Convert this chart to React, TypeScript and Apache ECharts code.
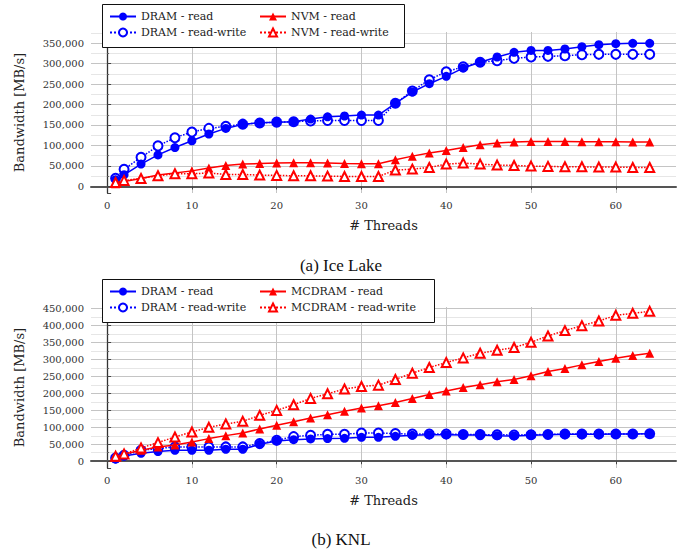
import React, { useEffect, useRef } from "react";
import * as echarts from "echarts";

const threads = [1, 2, 4, 6, 8, 10, 12, 14, 16, 18, 20, 22, 24, 26, 28, 30, 32, 34, 36, 38, 40, 42, 44, 46, 48, 50, 52, 54, 56, 58, 60, 62, 64];

const iceDramRead = [16300, 28500, 54500, 77000, 95000, 111500, 128000, 141700, 151500, 155500, 157000, 158000, 164500, 170000, 172000, 174300, 174300, 202800, 230500, 250800, 268700, 289000, 303000, 316000, 327400, 332000, 332000, 335500, 341000, 346000, 348500, 349300, 349300];
const iceDramRW = [20000, 42000, 71000, 99000, 119000, 133000, 141700, 146600, 152000, 155000, 157000, 158000, 160000, 161000, 161000, 161000, 161000, 203000, 233000, 260600, 280000, 292000, 303000, 307000, 312700, 316000, 317600, 319000, 321700, 322500, 322500, 322500, 322500];
const iceNvmRead = [6500, 12000, 19500, 27700, 32600, 38000, 44800, 51300, 54600, 56000, 57000, 57800, 57800, 57000, 56000, 55400, 55400, 65000, 74000, 81400, 88000, 95300, 101800, 105900, 108300, 110000, 110000, 110000, 109100, 109100, 109100, 108300, 108300];
const iceNvmRW = [9800, 14700, 19500, 26000, 31000, 31000, 32600, 29300, 29300, 27700, 26900, 26000, 26000, 25200, 24400, 24400, 24400, 40000, 42300, 46400, 54600, 57000, 54600, 52100, 51300, 49700, 48900, 48000, 48000, 47200, 47200, 46400, 46400];

const knlDramRead = [5900, 15700, 23500, 28400, 32400, 32400, 32400, 35300, 35300, 50000, 59800, 63700, 65700, 66700, 67600, 70600, 70600, 73500, 76500, 78400, 78400, 77500, 77500, 75500, 74500, 76500, 78400, 79400, 79400, 79400, 80400, 80400, 81400];
const knlDramRW = [9800, 17600, 32400, 37300, 42200, 42200, 42200, 42200, 42200, 52000, 61800, 72500, 76500, 79400, 79400, 83300, 83300, 81400, 80000, 80000, 80000, 79000, 78500, 78000, 77500, 78000, 79000, 80000, 80000, 80000, 80500, 80500, 81000];
const knlMcRead = [11800, 20600, 32400, 42200, 48000, 56900, 66700, 75500, 83300, 95100, 105900, 116700, 127500, 137300, 147500, 156900, 163700, 173500, 185300, 197100, 206900, 217600, 225500, 234300, 241200, 252000, 264700, 273500, 284300, 294100, 303900, 311800, 318600];
const knlMcRW = [14700, 21600, 39200, 54900, 71600, 86300, 100000, 109800, 117600, 135300, 150000, 166700, 185300, 199000, 213200, 220600, 224500, 241200, 259800, 276500, 291200, 304900, 318600, 327500, 335300, 351000, 369600, 385300, 400000, 413700, 430400, 436300, 442200];

const captions = ["(a) Ice Lake", "(b) KNL"];
const xName = "# Threads";
const yName = "Bandwidth [MB/s]";

const BLUE = "#0000ff";
const RED = "#ff0000";
const AXFONT = "'DejaVu Serif', serif";

const pairs = (vals: number[]) => vals.map((v, i) => [threads[i], v]);

function mkSeries(name: string, vals: number[], gi: number, color: string, kind: "circle" | "triangle", rw: boolean, z: number) {
  const symbol = rw ? (kind === "circle" ? "emptyCircle" : "emptyTriangle") : kind;
  return {
    type: "line",
    name,
    xAxisIndex: gi,
    yAxisIndex: gi,
    data: pairs(vals),
    symbol,
    symbolSize: 9,
    showAllSymbol: true,
    z,
    lineStyle: { color, width: 1.5, type: rw ? "dotted" : "solid" },
    itemStyle: { color, borderColor: color, borderWidth: rw ? 1.8 : 0 },
    emphasis: { disabled: true },
  };
}

function xAxisCfg(gi: number) {
  return {
    type: "value",
    gridIndex: gi,
    min: -1.9,
    max: 67.1,
    splitNumber: 7,
    name: xName,
    nameLocation: "middle",
    nameGap: 26,
    nameTextStyle: { fontFamily: AXFONT, fontSize: 13, color: "#222" },
    axisLine: { show: true, lineStyle: { color: "#555", width: 2 } },
    axisTick: { show: true, inside: false, length: 3, lineStyle: { color: "#444" } },
    axisLabel: { fontFamily: AXFONT, fontSize: 10, color: "#333", margin: 7, showMinLabel: false, showMaxLabel: false },
    splitLine: { show: true, showMinLine: false, showMaxLine: false, lineStyle: { color: "#c4c4c4", width: 1 } },
  };
}

function yAxisCfg(gi: number, min: number, max: number, splitNumber: number) {
  return {
    type: "value",
    gridIndex: gi,
    min,
    max,
    splitNumber,
    name: yName,
    nameLocation: "middle",
    nameGap: 65,
    nameTextStyle: { fontFamily: AXFONT, fontSize: 13, color: "#222" },
    axisLine: { show: true, lineStyle: { color: "#333", width: 1.3 } },
    axisTick: { show: true, inside: true, length: 4, lineStyle: { color: "#444" } },
    minorTick: { show: true, splitNumber: 2, length: 2, lineStyle: { color: "#666" } },
    minorSplitLine: { show: true, lineStyle: { color: "#e6e6e6", width: 1 } },
    axisLabel: {
      fontFamily: AXFONT,
      fontSize: 10,
      color: "#333",
      margin: 7,
      showMinLabel: false,
      showMaxLabel: false,
      formatter: (v: number) => v.toLocaleString("en-US"),
    },
    splitLine: { show: true, showMinLine: false, showMaxLine: false, lineStyle: { color: "#c4c4c4", width: 1 } },
  };
}

function legendCfg(left: number, top: number, names: string[]) {
  return {
    show: true,
    orient: "vertical",
    left,
    top,
    padding: 0,
    z: 20,
    itemWidth: 26,
    itemHeight: 10,
    itemGap: 5,
    selectedMode: false,
    textStyle: { fontFamily: AXFONT, fontSize: 11, color: "#222" },
    data: names,
  };
}

export default function App() {
  const ref = useRef<HTMLDivElement>(null);
  useEffect(() => {
    if (!ref.current) return;
    const chart = echarts.init(ref.current, undefined, { renderer: "svg" });
    const option = {
      animation: false,
      backgroundColor: "#ffffff",
      grid: [
        { left: 91, right: 14, top: 32, height: 161, containLabel: false },
        { left: 91, right: 14, top: 307, height: 161, containLabel: false },
      ],
      xAxis: [xAxisCfg(0), xAxisCfg(1)],
      yAxis: [yAxisCfg(0, -16000, 377000, 8), yAxisCfg(1, -20000, 455000, 9)],
      legend: [
        legendCfg(109, 11, ["DRAM - read", "DRAM - read-write"]),
        legendCfg(259, 11, ["NVM - read", "NVM - read-write"]),
        legendCfg(109, 286, ["DRAM - read", "DRAM - read-write"]),
        legendCfg(259, 286, ["MCDRAM - read", "MCDRAM - read-write"]),
      ],
      graphic: {
        z: 10,
        elements: [
          { type: "rect", left: 102, top: 4, z: 10, shape: { width: 302, height: 43 }, style: { fill: "#fff", stroke: "#111", lineWidth: 1 } },
          { type: "rect", left: 102, top: 279, z: 10, shape: { width: 332, height: 43 }, style: { fill: "#fff", stroke: "#111", lineWidth: 1 } },
          { type: "text", x: 341, y: 265, style: { text: captions[0], fontFamily: "Liberation Serif", fontSize: 17, fill: "#111", textAlign: "center", textVerticalAlign: "middle" } },
          { type: "text", x: 341, y: 539, style: { text: captions[1], fontFamily: "Liberation Serif", fontSize: 17, fill: "#111", textAlign: "center", textVerticalAlign: "middle" } },
        ],
      },
      series: [
        mkSeries("DRAM - read-write", iceDramRW, 0, BLUE, "circle", true, 2),
        mkSeries("DRAM - read", iceDramRead, 0, BLUE, "circle", false, 3),
        mkSeries("NVM - read", iceNvmRead, 0, RED, "triangle", false, 3),
        mkSeries("NVM - read-write", iceNvmRW, 0, RED, "triangle", true, 4),
        mkSeries("DRAM - read-write", knlDramRW, 1, BLUE, "circle", true, 2),
        mkSeries("DRAM - read", knlDramRead, 1, BLUE, "circle", false, 3),
        mkSeries("MCDRAM - read", knlMcRead, 1, RED, "triangle", false, 3),
        mkSeries("MCDRAM - read-write", knlMcRW, 1, RED, "triangle", true, 4),
      ],
    };
    chart.setOption(option as any);
    return () => chart.dispose();
  }, []);
  return <div ref={ref} style={{ position: "fixed", left: 0, top: 0, width: 690, height: 551 }} />;
}
